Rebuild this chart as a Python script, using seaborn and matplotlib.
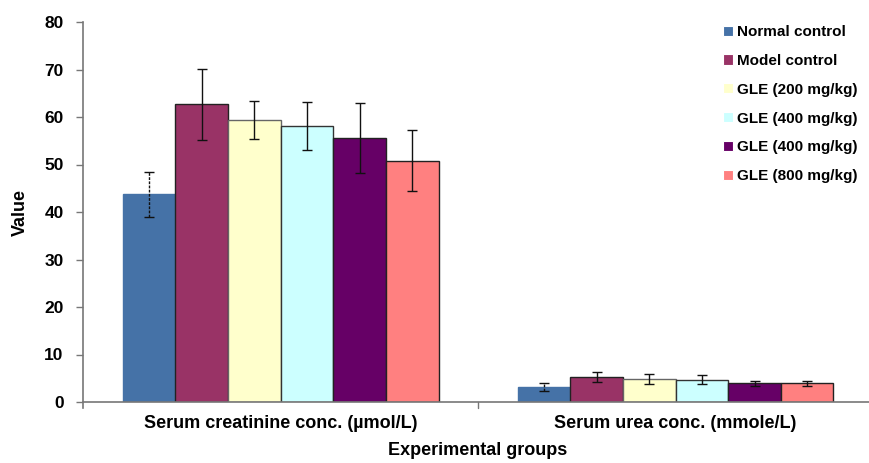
import matplotlib
matplotlib.use("Agg")
import matplotlib.pyplot as plt
import seaborn as sns
import pandas as pd

# Measured parameters and treatment groups
parameters = ["Serum creatinine conc. (\u00b5mol/L)", "Serum urea conc. (mmole/L)"]
groups = ["Normal control", "Model control", "GLE (200 mg/kg)",
          "GLE (400 mg/kg)", "GLE (400 mg/kg) ", "GLE (800 mg/kg)"]
legend_labels = ["Normal control", "Model control", "GLE (200 mg/kg)",
                 "GLE (400 mg/kg)", "GLE (400 mg/kg)", "GLE (800 mg/kg)"]

# Mean values per group: [creatinine, urea]
means = {
    "Normal control":   [43.7, 3.2],
    "Model control":    [62.7, 5.2],
    "GLE (200 mg/kg)":  [59.3, 4.9],
    "GLE (400 mg/kg)":  [58.1, 4.7],
    "GLE (400 mg/kg) ": [55.6, 3.9],
    "GLE (800 mg/kg)":  [50.8, 3.9],
}
# Standard deviations per group: [creatinine, urea]
sds = {
    "Normal control":   [4.8, 0.85],
    "Model control":    [7.5, 1.05],
    "GLE (200 mg/kg)":  [4.0, 1.05],
    "GLE (400 mg/kg)":  [5.1, 1.0],
    "GLE (400 mg/kg) ": [7.3, 0.55],
    "GLE (800 mg/kg)":  [6.4, 0.55],
}

colors = ["#4572A7", "#993366", "#FFFFCC", "#CCFFFF", "#660066", "#FF8080"]
edges = ["#4572A7", "#222222", "#666666", "#333333", "#222222", "#222222"]

rows = []
for g in groups:
    for i, p in enumerate(parameters):
        rows.append({"parameter": p, "group": g, "value": means[g][i], "sd": sds[g][i]})
df = pd.DataFrame(rows)

sns.set_style("white")
plt.rcParams["font.family"] = ["Liberation Sans", "DejaVu Sans"]
plt.rcParams["font.weight"] = "bold"
plt.rcParams["text.color"] = "black"
plt.rcParams["axes.labelcolor"] = "black"
plt.rcParams["xtick.color"] = "black"
plt.rcParams["ytick.color"] = "black"

fig = plt.figure(figsize=(8.69, 4.63), dpi=100)
ax = fig.add_axes([83 / 869, 1 - 402 / 463, 790 / 869, 380 / 463])

sns.barplot(data=df, x="parameter", y="value", hue="group", order=parameters,
            hue_order=groups, palette=colors, errorbar=None, width=0.8,
            linewidth=1.0, saturation=1, ax=ax)

# Edge colours and error bars per group
for k, (cont, g) in enumerate(zip(ax.containers, groups)):
    for j, bar in enumerate(cont):
        bar.set_edgecolor(edges[k])
        xc = bar.get_x() + bar.get_width() / 2
        eb = ax.errorbar(xc, means[g][j], yerr=sds[g][j], fmt="none",
                         ecolor="#111111", elinewidth=1.0, capsize=3.5,
                         capthick=1.0, zorder=5)
        if k == 0:
            eb[2][0].set_linestyle((0, (2, 1)))

ax.set_xlim(-0.5, 1.5)
ax.set_ylim(0, 80)
ax.set_yticks(range(0, 81, 10))
ax.set_xticks([0, 1])
ax.set_xticklabels(parameters, fontsize=13, fontweight="bold")
ax.tick_params(axis="x", length=0, pad=9, colors="black")
ax.tick_params(axis="y", length=5, width=1, color="#777777", labelcolor="black",
               labelsize=12.5, pad=9, direction="out", left=True)
for lbl in ax.get_yticklabels():
    lbl.set_fontweight("bold")

# Divider tick between the two categories
ax.plot([0.5, 0.5], [0, -0.015], transform=ax.get_xaxis_transform(),
        color="#777777", lw=1, clip_on=False)

for s in ["top", "right"]:
    ax.spines[s].set_visible(False)
for s in ["left", "bottom"]:
    ax.spines[s].set_color("#777777")
    ax.spines[s].set_linewidth(1.2)
ax.spines["left"].set_bounds(-1.3, 80)

ax.set_xlabel("Experimental groups", fontsize=13, fontweight="bold", labelpad=7.5,
              color="black")
ax.set_ylabel("Value", fontsize=13, fontweight="bold", labelpad=11, color="black")

handles, _ = ax.get_legend_handles_labels()
leg = ax.legend(handles, legend_labels, loc="upper left",
                bbox_to_anchor=(717 / 869, 1 - 19 / 463), bbox_transform=fig.transFigure,
                frameon=False, fontsize=11, labelspacing=0.97,
                handlelength=0.65, handleheight=0.65, handletextpad=0.25,
                borderaxespad=0)
for t in leg.get_texts():
    t.set_fontweight("bold")
    t.set_color("black")
for h in leg.legend_handles:
    h.set_linewidth(0.8)

fig.savefig("out.png", dpi=100)
